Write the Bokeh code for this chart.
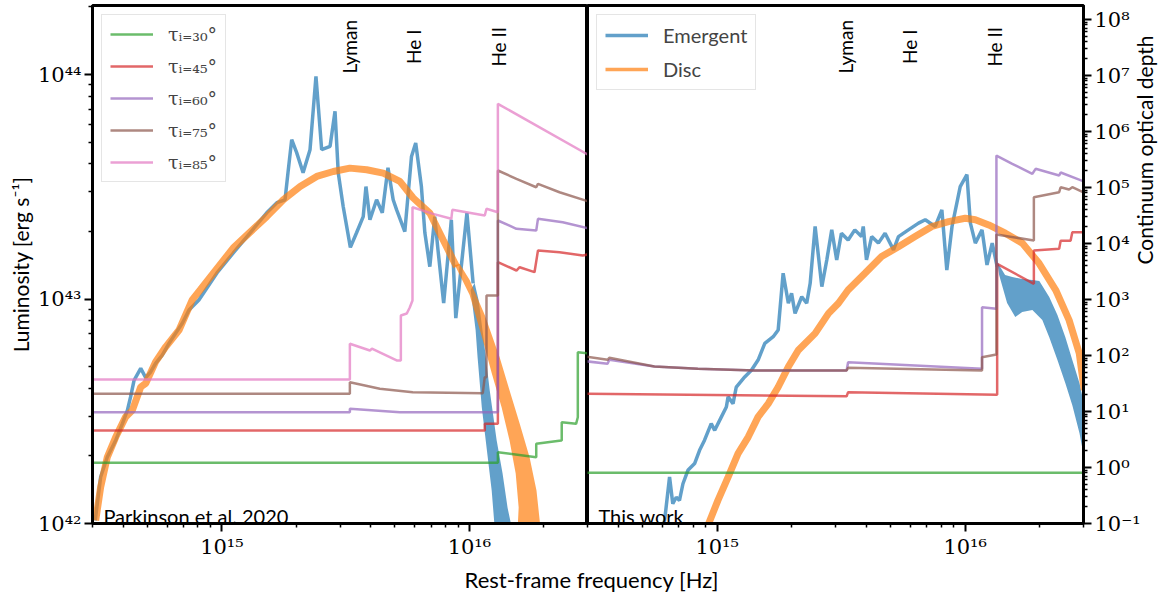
import numpy as np
from bokeh.plotting import figure
from bokeh.models import (Range1d, LogScale, LogAxis, FixedTicker,
                          CustomJSTickFormatter, Legend, LegendItem, Label, Div)
from bokeh.layouts import row, column
from bokeh.embed import file_html
from bokeh.resources import INLINE
from bokeh.core.properties import value

# ---------------- data (log10 values) ----------------
# Left panel: Parkinson et al. 2020
left_em_lognu = [14.488, 14.510, 14.537, 14.571, 14.598, 14.618, 14.631, 14.645, 14.672, 14.692,
                 14.712, 14.732, 14.759, 14.786, 14.813, 14.840, 14.867, 14.907, 14.980, 15.046,
                 15.114, 15.181, 15.222, 15.255, 15.267, 15.282, 15.302, 15.328, 15.356, 15.380,
                 15.403, 15.437, 15.457, 15.470, 15.490, 15.519, 15.544, 15.571, 15.582, 15.598,
                 15.625, 15.648, 15.671, 15.692, 15.706, 15.739, 15.766, 15.783, 15.806, 15.820,
                 15.840, 15.860, 15.873, 15.896, 15.927, 15.945, 15.990, 16.015]
left_em_logL = [42.013, 42.207, 42.296, 42.371, 42.445, 42.504, 42.564, 42.638, 42.691, 42.650,
                42.675, 42.713, 42.750, 42.802, 42.847, 42.892, 42.951, 42.996, 43.116, 43.205,
                43.295, 43.384, 43.429, 43.442, 43.563, 43.710, 43.652, 43.563, 43.665, 43.992,
                43.665, 43.680, 43.836, 43.563, 43.412, 43.230, 43.295, 43.367, 43.501, 43.353,
                43.442, 43.384, 43.585, 43.442, 43.397, 43.300, 43.635, 43.695, 43.501, 43.295,
                43.144, 43.367, 43.219, 42.982, 43.353, 42.915, 43.383, 43.070]
# noisy high-frequency tail of the emergent spectrum (outline of the band)
left_em_tail_lognu = [16.005, 16.025, 16.033, 16.050, 16.074, 16.090, 16.102,
                      16.171, 16.154, 16.134, 16.110, 16.082, 16.058, 16.037, 16.021]
left_em_tail_logL = [43.040, 42.862, 42.741, 42.518, 42.295, 42.147, 41.982,
                     41.982, 42.071, 42.223, 42.371, 42.594, 42.817, 42.996, 43.071]

left_disc_lognu = [14.490, 14.510, 14.537, 14.571, 14.611, 14.638, 14.672, 14.692, 14.732, 14.773,
                   14.827, 14.880, 14.912, 15.046, 15.181, 15.248, 15.316, 15.383, 15.450, 15.517,
                   15.585, 15.652, 15.719, 15.773, 15.840, 15.894, 15.948]
left_disc_logL = [42.013, 42.162, 42.296, 42.385, 42.475, 42.504, 42.608, 42.624, 42.720, 42.787,
                  42.862, 42.996, 43.040, 43.228, 43.367, 43.442, 43.501, 43.546, 43.568, 43.583,
                  43.576, 43.561, 43.524, 43.450, 43.383, 43.263, 43.144]
left_disc_tail_lognu = [15.941, 16.001, 16.054, 16.090, 16.130, 16.162, 16.187, 16.199, 16.195,
                        16.287, 16.271, 16.243, 16.203, 16.162, 16.122, 16.062, 16.001, 15.961]
left_disc_tail_logL = [43.152, 43.018, 42.817, 42.670, 42.518, 42.371, 42.223, 42.071, 41.982,
                       41.982, 42.147, 42.295, 42.446, 42.594, 42.741, 42.929, 43.085, 43.156]

# continuum optical depth (log10) per inclination, left panel
left_tau = {
    "30": ([14.47, 16.115, 16.115, 16.270, 16.270, 16.371, 16.373, 16.373, 16.431, 16.438, 16.438, 16.49],
           [0.084, 0.084, 0.273, 0.184, 0.423, 0.482, 0.482, 0.809, 0.780, 0.898, 2.059, 2.030]),
    "45": ([14.47, 16.062, 16.062, 16.115, 16.115, 16.190, 16.203, 16.263, 16.277, 16.364, 16.458, 16.49],
           [0.661, 0.661, 0.780, 0.780, 3.666, 3.518, 3.577, 3.488, 3.875, 3.845, 3.786, 3.816]),
    "60": ([14.47, 15.517, 15.517, 15.719, 16.115, 16.115, 16.162, 16.190, 16.270, 16.277, 16.377, 16.49],
           [0.988, 0.988, 1.048, 0.988, 0.988, 4.411, 4.321, 4.262, 4.232, 4.441, 4.380, 4.262]),
    "75": ([14.47, 15.517, 15.517, 15.638, 15.771, 16.054, 16.062, 16.069, 16.069, 16.115, 16.115,
            16.190, 16.270, 16.277, 16.364, 16.49],
           [1.316, 1.316, 1.523, 1.405, 1.345, 1.327, 1.613, 1.613, 3.071, 3.071, 5.304,
            5.155, 5.005, 5.066, 4.916, 4.738]),
    "85": ([14.47, 15.517, 15.517, 15.598, 15.606, 15.706, 15.723, 15.723, 15.747, 15.759, 15.770,
            15.770, 15.853, 15.927, 15.931, 16.062, 16.069, 16.115, 16.115, 16.49],
           [1.571, 1.571, 2.209, 2.089, 2.125, 1.911, 1.911, 2.714, 2.750, 2.857, 2.982,
            4.648, 4.530, 4.441, 4.602, 4.500, 4.620, 4.559, 6.495, 5.560]),
}

# Right panel: this work
right_em_lognu = [14.781, 14.788, 14.808, 14.821, 14.835, 14.848, 14.862, 14.882, 14.909, 14.929,
                  14.949, 14.976, 14.990, 15.017, 15.037, 15.044, 15.064, 15.077, 15.111, 15.138,
                  15.165, 15.192, 15.226, 15.246, 15.266, 15.287, 15.300, 15.314, 15.341, 15.361,
                  15.375, 15.395, 15.422, 15.442, 15.462, 15.482, 15.501, 15.528, 15.555, 15.582,
                  15.589, 15.602, 15.623, 15.650, 15.677, 15.711, 15.731, 15.771, 15.812, 15.839,
                  15.879, 15.906, 15.926, 15.947, 15.980, 16.007, 16.021, 16.041, 16.068, 16.088,
                  16.109, 16.129]
right_em_logL = [41.970, 42.013, 42.207, 42.088, 42.117, 42.103, 42.177, 42.237, 42.267, 42.326,
                 42.371, 42.445, 42.415, 42.475, 42.519, 42.564, 42.534, 42.608, 42.653, 42.683,
                 42.728, 42.802, 42.832, 42.862, 43.115, 42.981, 43.025, 42.936, 43.010, 42.981,
                 43.070, 43.323, 43.055, 43.174, 43.308, 43.174, 43.293, 43.263, 43.308, 43.278,
                 43.323, 43.174, 43.278, 43.249, 43.293, 43.219, 43.278, 43.308, 43.338, 43.353,
                 43.323, 43.397, 43.129, 43.323, 43.501, 43.554, 43.338, 43.249, 43.308, 43.152,
                 43.249, 43.144]
right_em_tail_lognu = [16.129, 16.161, 16.190, 16.230, 16.271, 16.299, 16.339, 16.372, 16.404,
                       16.432, 16.461, 16.493,
                       16.493, 16.461, 16.432, 16.404, 16.372, 16.339, 16.311, 16.271, 16.230,
                       16.202, 16.169, 16.137]
right_em_tail_logL = [43.165, 43.107, 43.098, 43.089, 43.085, 43.080, 43.009, 42.929, 42.830,
                      42.728, 42.625, 42.460,
                      42.214, 42.402, 42.527, 42.625, 42.728, 42.830, 42.906, 42.951, 42.942,
                      42.920, 42.982, 43.107]

right_disc_lognu = [14.955, 15.003, 15.044, 15.084, 15.125, 15.165, 15.206, 15.246, 15.287, 15.327,
                    15.395, 15.449, 15.489, 15.528, 15.596, 15.663, 15.731, 15.798, 15.866, 15.933,
                    16.000, 16.041, 16.095, 16.162, 16.230, 16.298, 16.365, 16.419, 16.460, 16.480]
right_disc_logL = [41.970, 42.103, 42.207, 42.311, 42.385, 42.475, 42.534, 42.608, 42.698, 42.772,
                   42.847, 42.936, 42.981, 43.040, 43.115, 43.189, 43.233, 43.278, 43.323, 43.345,
                   43.360, 43.353, 43.330, 43.293, 43.249, 43.159, 43.040, 42.906, 42.758, 42.594]

right_tau = {
    "30": ([14.47, 16.49], [-0.095, -0.095]),
    "45": ([14.47, 15.522, 15.528, 16.129, 16.129, 16.277, 16.277, 16.379, 16.385, 16.425, 16.432, 16.49],
           [1.316, 1.273, 1.345, 1.298, 3.638, 3.280, 3.875, 3.905, 4.050, 4.050, 4.200, 4.200]),
    "60": ([14.47, 14.558, 14.565, 14.747, 14.922, 15.152, 15.522, 15.528, 16.068, 16.068, 16.126,
            16.126, 16.190, 16.271, 16.284, 16.379, 16.385, 16.49],
           [1.898, 1.852, 1.923, 1.804, 1.763, 1.732, 1.732, 1.880, 1.763, 2.863, 2.834,
            5.571, 5.423, 5.245, 5.334, 5.214, 5.268, 5.089]),
    "75": ([14.47, 14.558, 14.565, 14.747, 14.922, 15.152, 15.522, 15.528, 16.068, 16.068, 16.126,
            16.126, 16.277, 16.277, 16.379, 16.385, 16.419, 16.432, 16.49],
           [1.982, 1.923, 1.959, 1.804, 1.763, 1.732, 1.732, 1.780, 1.732, 1.970, 2.018,
            4.161, 4.054, 4.827, 4.916, 5.005, 4.964, 5.005, 4.888]),
}

angles = ["30", "45", "60", "75", "85"]
angle_labels = ["τᵢ₌₃₀°", "τᵢ₌₄₅°", "τᵢ₌₆₀°", "τᵢ₌₇₅°", "τᵢ₌₈₅°"]
edge_names = ["Lyman", "He I", "He II"]
edge_freqs = [3.288e15, 5.945e15, 1.316e16]

NU_MIN, NU_MAX = 3.0e14, 3.0e16
L_MIN, L_MAX = 1.0e42, 2.03e44
TAU_MIN, TAU_MAX = 0.1, 1.78e8

# label anchors (data coordinates)
edge_label_L = 1.33e44
corner_nu, corner_L = 3.32e14, 1.08e42

# ---------------- styling ----------------
C = {"blue": "#1f77b4", "orange": "#ff7f0e", "30": "#2ca02c", "45": "#d62728",
     "60": "#9467bd", "75": "#8c564b", "85": "#e377c2"}
ALPHA = 0.7
SANS = "Lato"
SERIF = "DejaVu Serif"


def pw(a):
    return 10 ** np.asarray(a, dtype=float)


def sup_formatter():
    return CustomJSTickFormatter(code="""
const s = {"0":"⁰","1":"¹","2":"²","3":"³","4":"⁴","5":"⁵","6":"⁶","7":"⁷","8":"⁸","9":"⁹","-":"⁻"};
const e = Math.round(Math.log10(tick));
return "10" + String(e).split("").map(c => s[c]).join("");
""")


x_major = [1e15, 1e16]
x_minor = [m * 10.0 ** e for e in (14, 15, 16) for m in range(2, 10)]
L_major = [1e42, 1e43, 1e44]
L_minor = [m * 10.0 ** e for e in (42, 43, 44) for m in range(2, 10)]
tau_major = [10.0 ** e for e in range(-1, 9)]
tau_minor = [m * 10.0 ** e for e in range(-1, 9) for m in range(2, 10)]


def style_axis(ax):
    ax.axis_line_width = 3
    ax.axis_line_color = "black"
    ax.major_tick_line_width = 2
    ax.minor_tick_line_width = 1.5
    ax.major_tick_out = 8
    ax.major_tick_in = 0
    ax.minor_tick_out = 4
    ax.minor_tick_in = 0
    ax.major_label_text_font = SERIF
    ax.major_label_text_font_size = "21px"
    ax.major_label_text_color = "black"
    ax.major_label_standoff = 3
    ax.axis_label_text_font = SANS
    ax.axis_label_text_font_size = "21px"
    ax.axis_label_text_font_style = "normal"
    ax.axis_label_text_color = "black"
    ax.axis_label_standoff = 2
    ax.formatter = sup_formatter()


def base_fig(width, mbl, mbr, ylocation):
    p = figure(width=width, height=569, x_axis_type="log", y_axis_type="log",
               x_range=Range1d(NU_MIN, NU_MAX), y_range=Range1d(L_MIN, L_MAX),
               y_axis_location=ylocation,
               output_backend="svg", toolbar_location=None,
               min_border_left=mbl, min_border_right=mbr, min_border_top=5, min_border_bottom=46)
    p.extra_y_ranges = {"tau": Range1d(TAU_MIN, TAU_MAX)}
    p.extra_y_scales = {"tau": LogScale()}
    p.xgrid.visible = False
    p.ygrid.visible = False
    p.outline_line_color = "black"
    p.outline_line_width = 3
    p.outline_line_alpha = 1
    p.background_fill_color = "white"
    p.border_fill_color = "white"
    p.xaxis.ticker = FixedTicker(ticks=x_major, minor_ticks=x_minor)
    for ax in p.xaxis:
        style_axis(ax)
    return p


def edge_text(p):
    p.text(x=edge_freqs, y=[edge_label_L] * len(edge_freqs), text=edge_names,
           angle=np.pi / 2, text_align="center", text_baseline="middle",
           text_font=value(SANS), text_font_size="19px", text_color="black")


# ---------------- left panel ----------------
p1 = base_fig(587, 92, 0, "left")
p1.yaxis.ticker = FixedTicker(ticks=L_major, minor_ticks=L_minor)
for ax in p1.yaxis:
    style_axis(ax)
    ax.axis_label = "Luminosity [erg s⁻¹]"

p1.line(pw(left_em_lognu), pw(left_em_logL), line_color=C["blue"], line_alpha=ALPHA, line_width=3.5)
p1.patch(pw(left_em_tail_lognu), pw(left_em_tail_logL), fill_color=C["blue"], fill_alpha=ALPHA,
         line_color=None)
p1.line(pw(left_disc_lognu), pw(left_disc_logL), line_color=C["orange"], line_alpha=ALPHA, line_width=7)
p1.patch(pw(left_disc_tail_lognu), pw(left_disc_tail_logL), fill_color=C["orange"], fill_alpha=ALPHA,
         line_color=None)
tau_items = []
for a, lab in zip(angles, angle_labels):
    xs, ys = left_tau[a]
    r = p1.line(pw(xs), pw(ys), y_range_name="tau", line_color=C[a], line_alpha=ALPHA, line_width=2.5)
    tau_items.append(LegendItem(label=lab, renderers=[r]))
edge_text(p1)
p1.add_layout(Label(x=corner_nu, y=corner_L, text="Parkinson et al. 2020", text_font=SANS,
                    text_font_size="20px", text_color="black", text_baseline="alphabetic"))
leg1 = Legend(items=tau_items, location="top_left", margin=9, padding=8, spacing=10,
              glyph_width=43, glyph_height=20, label_height=20, label_standoff=15,
              label_text_font=SERIF, label_text_font_size="19px",
              border_line_color="#cccccc", border_line_width=1.2,
              background_fill_color="white", background_fill_alpha=0.85)
p1.add_layout(leg1)

# ---------------- right panel ----------------
p2 = base_fig(586, 0, 90, None)
tau_ax = LogAxis(y_range_name="tau")
tau_ax.ticker = FixedTicker(ticks=tau_major, minor_ticks=tau_minor)
style_axis(tau_ax)
tau_ax.axis_label = "Continuum optical depth"
tau_ax.axis_label_standoff = 1
tau_ax.axis_label_orientation = np.pi / 2
p2.add_layout(tau_ax, "right")

r_em = p2.line(pw(right_em_lognu), pw(right_em_logL), line_color=C["blue"], line_alpha=ALPHA, line_width=3.5)
p2.patch(pw(right_em_tail_lognu), pw(right_em_tail_logL), fill_color=C["blue"], fill_alpha=ALPHA,
         line_color=None)
p2.line(pw(right_disc_lognu), pw(right_disc_logL), line_color=C["orange"], line_alpha=ALPHA, line_width=7)
r_disc_key = p2.line([np.nan, np.nan], [np.nan, np.nan], line_color=C["orange"], line_alpha=ALPHA,
                     line_width=3.5)
for a in ["30", "45", "60", "75"]:
    xs, ys = right_tau[a]
    p2.line(pw(xs), pw(ys), y_range_name="tau", line_color=C[a], line_alpha=ALPHA, line_width=2.5)
edge_text(p2)
p2.add_layout(Label(x=corner_nu, y=corner_L, text="This work", text_font=SANS,
                    text_font_size="20px", text_color="black", text_baseline="alphabetic"))
leg2 = Legend(items=[LegendItem(label="Emergent", renderers=[r_em]),
                     LegendItem(label="Disc", renderers=[r_disc_key])],
              location="top_left", margin=9, padding=8, spacing=10,
              glyph_width=43, glyph_height=20, label_height=20, label_standoff=15,
              label_text_font=SANS, label_text_font_size="20px",
              border_line_color="#cccccc", border_line_width=1.2,
              background_fill_color="white", background_fill_alpha=0.85)
p2.add_layout(leg2)

xlabel = Div(text="Rest-frame frequency [Hz]", width=1173, height=26,
             styles={"text-align": "center", "font-family": SANS, "font-size": "22px",
                     "line-height": "12px", "color": "black"})

layout = column(row(p1, p2), xlabel)
open("out.html", "w").write(file_html(layout, INLINE))
